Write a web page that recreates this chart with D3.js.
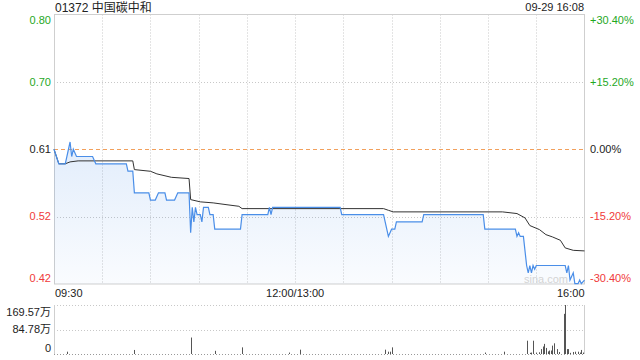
<!DOCTYPE html>
<html><head><meta charset="utf-8">
<script src="https://cdn.jsdelivr.net/npm/d3@7"></script>
<style>
html,body{margin:0;padding:0;background:#fff;}
svg text{font-family:"Liberation Sans",Arial,"Noto Sans CJK SC",sans-serif;}
</style></head>
<body><svg id="c" width="640" height="360"></svg>
<script>
// ---------- data ----------
const title = "01372 中国碳中和";
const stamp = "09-29 16:08";
const prevClose = 0.61;
const pctTicks = [0.304, 0.152, 0, -0.152, -0.304];
const priceTickLabels = ["0.80", "0.70", "0.61", "0.52", "0.42"];
const pctTickLabels = ["+30.40%", "+15.20%", "0.00%", "-15.20%", "-30.40%"];
const timeLabels = ["09:30", "12:00/13:00", "16:00"];
const timeLabelAt = ["09:30", "13:00", "16:00"];
const volTickValues = [169.57, 84.785, 0];
const volTickLabels = ["169.57万", "84.78万", "0"];

const priceTimes = ["09:30","09:33","09:37","09:38","09:39","09:40","09:41","09:42","09:44","09:54","09:56","10:15","10:16","10:19","10:20","10:29","10:30","10:33","10:35","10:39","10:40","10:45","10:47","10:54","10:55","10:56","10:57","10:58","10:59","11:01","11:02","11:03","11:06","11:07","11:09","11:10","11:26","11:27","11:43","11:44","11:45","11:46","13:28","13:29","13:55","13:56","13:58","14:00","14:02","14:03","14:19","14:20","14:57","14:58","15:17","15:18","15:19","15:20","15:22","15:24","15:25","15:26","15:27","15:28","15:29","15:30","15:48","15:49","15:50","15:51","15:53","15:54","15:56","15:57","15:58","16:00"];
const priceValues = [0.61,0.59,0.59,0.60,0.61,0.62,0.60,0.61,0.60,0.60,0.59,0.59,0.58,0.58,0.55,0.55,0.54,0.54,0.55,0.55,0.54,0.54,0.55,0.55,0.495,0.53,0.51,0.53,0.52,0.52,0.51,0.53,0.53,0.52,0.52,0.50,0.50,0.52,0.52,0.53,0.52,0.53,0.53,0.52,0.52,0.51,0.49,0.50,0.50,0.51,0.51,0.52,0.52,0.50,0.50,0.49,0.495,0.49,0.49,0.45,0.44,0.45,0.44,0.45,0.445,0.45,0.45,0.44,0.45,0.43,0.44,0.425,0.425,0.43,0.425,0.43];

const avgTimes = ["09:30","09:33","09:37","09:40","09:45","10:19","10:20","10:30","10:34","10:43","10:54","10:55","11:01","11:09","11:17","11:25","11:27","13:55","13:58","14:01","15:09","15:18","15:23","15:26","15:32","15:36","15:40","15:45","15:48","15:53","16:00"];
const avgValues = [0.61,0.590,0.590,0.5926,0.594,0.594,0.582,0.5797,0.5761,0.5714,0.5697,0.5407,0.5376,0.5362,0.5338,0.5315,0.5283,0.5283,0.526,0.5238,0.5238,0.5215,0.5155,0.505,0.4994,0.4925,0.4894,0.4847,0.4742,0.4709,0.4701];

const volTimes = ["09:38","10:20","10:55","11:10","11:27","11:56","13:03","13:56","13:58","13:59","14:00","14:58","15:10","15:24","15:26","15:27","15:28","15:30","15:32","15:33","15:34","15:35","15:36","15:37","15:38","15:39","15:40","15:41","15:43","15:44","15:47","15:48","15:49","15:50","15:51","15:53","15:54","15:56","15:57","15:58","15:59"];
const volValues = [8,14,57,11,23,5,15,15,8,8,23,5,8,46,4,5,46,5,6,17,26,35,21,9,12,12,29,37,17,7,139,169.57,17,17,4,7,8,8,5,14,5];

// ---------- helpers ----------
function idx(t){
  const [h,m] = t.split(":").map(Number);
  const v = h*60+m;
  return v < 13*60 ? Math.min(v - 570, 150) : 150 + (v - 780);
}
const svg = d3.select("#c");
const L = 54, R = 584.5, T = 14.5, B = 284, VT = 305, VB = 354;
const green = "#1fa81f", red = "#f03a3a", black = "#222";
const x = d3.scaleLinear().domain([0,330]).range([L,R]);
const y = d3.scaleLinear().domain([prevClose*(1-0.304), prevClose*(1+0.304)]).range([B,T]);
const yv = d3.scaleLinear().domain([0,169.57]).range([VB,VT]);

const defs = svg.append("defs");
const grad = defs.append("linearGradient").attr("id","g").attr("x1",0).attr("y1",0).attr("x2",0).attr("y2",1);
grad.append("stop").attr("offset","0%").attr("stop-color","#4a8ee8").attr("stop-opacity",0.16);
grad.append("stop").attr("offset","100%").attr("stop-color","#4a8ee8").attr("stop-opacity",0.03);

// grid
const g = svg.append("g");
const vgrid = d3.range(1,11);
g.selectAll("line.v").data(vgrid).join("line")
  .attr("x1",d=>Math.round(x(d*30))+0.5).attr("x2",d=>Math.round(x(d*30))+0.5)
  .attr("y1",T).attr("y2",B).attr("stroke","#c8c8c8").attr("stroke-dasharray","1,2");
const yTickVals = pctTicks.map(p=>prevClose*(1+p));
g.selectAll("line.h").data(yTickVals.slice(1,4)).join("line")
  .attr("x1",L).attr("x2",R).attr("y1",d=>Math.round(y(d))+0.5).attr("y2",d=>Math.round(y(d))+0.5)
  .attr("stroke",(d,i)=>i===1?"#f2a05c":"#c8c8c8")
  .attr("stroke-dasharray",(d,i)=>i===1?"4,3":"1,2");
// border
g.append("rect").attr("x",L+0.5).attr("y",T).attr("width",R-L-0.5).attr("height",B-T)
  .attr("fill","none").attr("stroke","#cfcfcf");

// area + lines
const pts = priceTimes.map((t,i)=>[idx(t), priceValues[i]]);
const apts = avgTimes.map((t,i)=>[idx(t), avgValues[i]]);
svg.append("path").datum(pts)
  .attr("d", d3.area().x(d=>x(d[0])).y0(B).y1(d=>y(d[1])))
  .attr("fill","url(#g)");
svg.append("text").attr("x",568).attr("y",283).attr("text-anchor","end")
  .attr("font-size",11).attr("fill","#d4d4d4").text("sina.com");
svg.append("path").datum(apts)
  .attr("d", d3.line().x(d=>x(d[0])).y(d=>y(d[1])))
  .attr("fill","none").attr("stroke","#333").attr("stroke-width",1);
svg.append("path").datum(pts)
  .attr("d", d3.line().x(d=>x(d[0])).y(d=>y(d[1])))
  .attr("fill","none").attr("stroke","#4a8ee8").attr("stroke-width",1.2);

// y labels
const clampY = v => Math.max(T+6, Math.min(B-6, v));
const colorFor = p => p>0?green:(p<0?red:black);
svg.append("g").selectAll("text").data(pctTicks).join("text")
  .attr("x",51).attr("y",(p,i)=>clampY(y(yTickVals[i])))
  .attr("dy","0.35em").attr("text-anchor","end").attr("font-size",11)
  .attr("fill",p=>colorFor(p)).text((p,i)=>priceTickLabels[i]);
svg.append("g").selectAll("text").data(pctTicks).join("text")
  .attr("x",590).attr("y",(p,i)=>clampY(y(yTickVals[i])))
  .attr("dy","0.35em").attr("text-anchor","start").attr("font-size",11)
  .attr("fill",p=>colorFor(p)).text((p,i)=>pctTickLabels[i]);

// time labels
svg.append("g").selectAll("text").data(timeLabels).join("text")
  .attr("x",(d,i)=>x(idx(timeLabelAt[i])) + (i===0?1:0))
  .attr("y",293).attr("dy","0.35em").attr("font-size",11).attr("fill","#222")
  .attr("text-anchor",(d,i)=>["start","middle","end"][i]).text(d=>d);

// title
svg.append("text").attr("x",55).attr("y",7.5).attr("dy","0.35em").attr("font-size",12).attr("fill","#222").text(title);
svg.append("text").attr("x",584).attr("y",7.5).attr("dy","0.35em").attr("font-size",11).attr("text-anchor","end").attr("fill","#222").text(stamp);

// volume panel
const vg = svg.append("g");
vg.selectAll("line").data(volTickValues).join("line")
  .attr("x1",L).attr("x2",R).attr("y1",d=>Math.round(yv(d))+0.5).attr("y2",d=>Math.round(yv(d))+0.5)
  .attr("stroke",(d,i)=>i===2?"#999":"#c8c8c8").attr("stroke-dasharray","1,2");
vg.append("line").attr("x1",L+0.5).attr("x2",L+0.5).attr("y1",VT).attr("y2",VB).attr("stroke","#cfcfcf");
vg.append("line").attr("x1",R).attr("x2",R).attr("y1",VT).attr("y2",VB).attr("stroke","#cfcfcf");
vg.selectAll("rect").data(volTimes).join("rect")
  .attr("x",(t)=>Math.round(x(idx(t)))).attr("width",1)
  .attr("y",(t,i)=>yv(volValues[i])).attr("height",(t,i)=>VB-yv(volValues[i]))
  .attr("fill","#555");
const clampV = v => Math.max(VT+7, Math.min(VB-6, v));
vg.selectAll("text").data(volTickValues).join("text")
  .attr("x",51).attr("y",d=>clampV(yv(d))).attr("dy","0.35em")
  .attr("text-anchor","end").attr("font-size",11).attr("fill","#222")
  .text((d,i)=>volTickLabels[i]);
</script>
</body></html>
